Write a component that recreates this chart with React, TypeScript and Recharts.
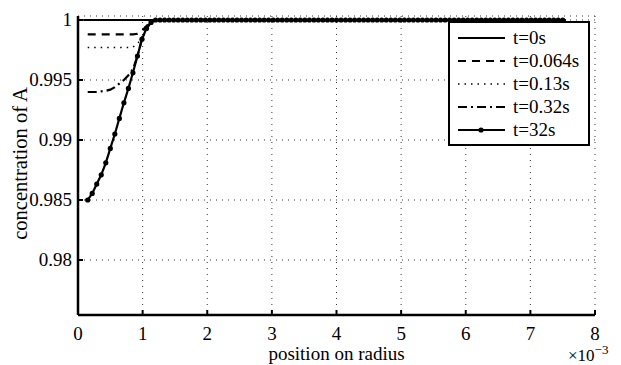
import {
  LineChart,
  Line,
  XAxis,
  YAxis,
  CartesianGrid,
  Legend,
  Label,
} from "recharts";

const FONT = "Liberation Serif, Times New Roman, serif";

const seriesNames = ["t=0s", "t=0.064s", "t=0.13s", "t=0.32s", "t=32s"];
const dashes = ["", "8 6", "1.5 5", "9 4 2 4", ""];

const xTicks = [0, 1, 2, 3, 4, 5, 6, 7, 8];
const yTicks = [0.98, 0.985, 0.99, 0.995, 1];
const yTickLabels = ["0.98", "0.985", "0.99", "0.995", "1"];

// radius positions (x 1e-3) and concentration for each time
const r0 = [0.08, 7.55];
const c0 = [1, 1];

const r064 = [0.15, 0.85, 0.92, 0.99, 1.06, 1.13, 1.2, 7.5];
const c064 = [0.9988, 0.9988, 0.99885, 0.9991, 0.9995, 0.9999, 1, 1];

const r013 = [0.15, 0.78, 0.85, 0.92, 0.99, 1.06, 1.13, 1.2, 7.5];
const c013 = [0.9977, 0.9977, 0.99775, 0.998, 0.9986, 0.9993, 0.9998, 1, 1];

const r032 = [0.15, 0.29, 0.36, 0.43, 0.5, 0.57, 0.64, 0.71, 0.78, 0.85, 0.92, 0.99, 1.06, 1.13, 1.2, 7.5];
const c032 = [0.994, 0.994, 0.99405, 0.9941, 0.9942, 0.9944, 0.9947, 0.995, 0.9954, 0.9959, 0.997, 0.9984, 0.9993, 0.9998, 1, 1];

const r32 = [
  0.15, 0.22, 0.29, 0.36, 0.43, 0.5, 0.57, 0.64, 0.71, 0.78,
  0.85, 0.92, 0.99, 1.06, 1.13, 1.2, 1.27, 1.34, 1.41, 1.48,
  1.55, 1.62, 1.69, 1.76, 1.83, 1.9, 1.97, 2.04, 2.11, 2.18,
  2.25, 2.32, 2.39, 2.46, 2.53, 2.6, 2.67, 2.74, 2.81, 2.88,
  2.95, 3.02, 3.09, 3.16, 3.23, 3.3, 3.37, 3.44, 3.51, 3.58,
  3.65, 3.72, 3.79, 3.86, 3.93, 4.0, 4.07, 4.14, 4.21, 4.28,
  4.35, 4.42, 4.49, 4.56, 4.63, 4.7, 4.77, 4.84, 4.91, 4.98,
  5.05, 5.12, 5.19, 5.26, 5.33, 5.4, 5.47, 5.54, 5.61, 5.68,
  5.75, 5.82, 5.89, 5.96, 6.03, 6.1, 6.17, 6.24, 6.31, 6.38,
  6.45, 6.52, 6.59, 6.66, 6.73, 6.8, 6.87, 6.94, 7.01, 7.08,
  7.15, 7.22, 7.29, 7.36, 7.43, 7.5,
];
const c32 = [
  0.985, 0.98555, 0.98633, 0.9871, 0.9881, 0.9893, 0.9905, 0.9918, 0.9931, 0.9943,
  0.9956, 0.997, 0.9984, 0.9993, 0.9998, 1, 1, 1, 1, 1,
  1, 1, 1, 1, 1, 1, 1, 1, 1, 1,
  1, 1, 1, 1, 1, 1, 1, 1, 1, 1,
  1, 1, 1, 1, 1, 1, 1, 1, 1, 1,
  1, 1, 1, 1, 1, 1, 1, 1, 1, 1,
  1, 1, 1, 1, 1, 1, 1, 1, 1, 1,
  1, 1, 1, 1, 1, 1, 1, 1, 1, 1,
  1, 1, 1, 1, 1, 1, 1, 1, 1, 1,
  1, 1, 1, 1, 1, 1, 1, 1, 1, 1,
  1, 1, 1, 1, 1, 1,
];

const toRows = (rs: number[], cs: number[]) => rs.map((r, i) => ({ r, c: cs[i] }));
const series = [
  toRows(r0, c0),
  toRows(r064, c064),
  toRows(r013, c013),
  toRows(r032, c032),
  toRows(r32, c32),
];

const PLOT_LEFT = 78;
const PLOT_BOTTOM = 315;

const YTick = (props: any) => {
  const { y, payload } = props;
  const i = yTicks.indexOf(payload.value);
  return (
    <g>
      <line x1={PLOT_LEFT} x2={PLOT_LEFT + 5} y1={y} y2={y} stroke="#000" strokeWidth={2} />
      <text x={PLOT_LEFT - 6} y={y} dy={6} textAnchor="end" style={{ fontFamily: FONT }} fontSize={19} fill="#000">
        {i >= 0 ? yTickLabels[i] : payload.value}
      </text>
    </g>
  );
};

const XTick = (props: any) => {
  const { x, payload } = props;
  return (
    <g>
      <line x1={x} x2={x} y1={PLOT_BOTTOM} y2={PLOT_BOTTOM - 5} stroke="#000" strokeWidth={2} />
      <text x={x} y={PLOT_BOTTOM + 25} textAnchor="middle" style={{ fontFamily: FONT }} fontSize={19} fill="#000">
        {payload.value}
      </text>
    </g>
  );
};

const YLabel = (props: any) => {
  const vb = props.viewBox;
  const cy = vb.y + vb.height / 2 - 2;
  return (
    <text x={27} y={cy} transform={`rotate(-90 27 ${cy})`} textAnchor="middle" style={{ fontFamily: FONT }} fontSize={20.5} fill="#000">
      concentration of A
    </text>
  );
};

const XLabel = (props: any) => {
  const vb = props.viewBox;
  return (
    <g>
      <text x={vb.x + vb.width / 2} y={360} textAnchor="middle" style={{ fontFamily: FONT }} fontSize={19} fill="#000">
        position on radius
      </text>
      <text x={vb.x + vb.width - 27} y={361} style={{ fontFamily: FONT }} fontSize={17} fill="#000">
        ×10<tspan dy={-7} fontSize={13}>−3</tspan>
      </text>
    </g>
  );
};

const LegendBox = () => (
  <div
    style={{
      border: "2px solid #000",
      background: "#fff",
      width: 138,
      padding: "3px 0 3px 0",
      fontFamily: FONT,
      fontSize: 19,
      color: "#000",
      lineHeight: "23px",
    }}
  >
    {seriesNames.map((name, i) => (
      <div key={name} style={{ display: "flex", alignItems: "center", height: 23 }}>
        <svg width={58} height={12} style={{ display: "block" }}>
          <line x1={8} x2={55} y1={6} y2={6} stroke="#000" strokeWidth={i === 2 ? 1.5 : 2.2} strokeDasharray={dashes[i]} />
          {i === 4 && <circle cx={31} cy={6} r={2.6} fill="#000" />}
        </svg>
        <span style={{ marginLeft: 5 }}>{name}</span>
      </div>
    ))}
  </div>
);

export default function App() {
  return (
    <div style={{ position: "absolute", left: 0, top: 0, background: "#fff" }}>
      <LineChart width={621} height={365} margin={{ top: 16, right: 26, bottom: 0, left: 0 }}>
        <CartesianGrid stroke="#333" strokeDasharray="1 5" />
        <XAxis
          type="number"
          dataKey="r"
          domain={[0, 8]}
          ticks={xTicks}
          allowDataOverflow
          height={50}
          tickSize={0}
          axisLine={{ stroke: "#000", strokeWidth: 2.5 }}
          tickLine={false}
          tick={<XTick />}
        >
          <Label content={<XLabel />} />
        </XAxis>
        <YAxis
          type="number"
          domain={[0.975417, 1.000333]}
          ticks={yTicks}
          allowDataOverflow
          width={78}
          tickSize={0}
          axisLine={{ stroke: "#000", strokeWidth: 2.5 }}
          tickLine={false}
          tick={<YTick />}
        >
          <Label content={<YLabel />} />
        </YAxis>
        <Legend
          layout="vertical"
          align="center"
          verticalAlign="middle"
          content={<LegendBox />}
          wrapperStyle={{ left: 448, top: 21, width: 142 }}
        />
        {series.map((d, i) => (
          <Line
            key={seriesNames[i]}
            data={d}
            dataKey="c"
            name={seriesNames[i]}
            type="linear"
            stroke="#000"
            strokeWidth={i === 2 ? 1.5 : 2.2}
            strokeDasharray={dashes[i]}
            dot={i === 4 ? { r: 2.6, fill: "#000", stroke: "#000", strokeWidth: 0 } : false}
            isAnimationActive={false}
          />
        ))}
      </LineChart>
    </div>
  );
}
